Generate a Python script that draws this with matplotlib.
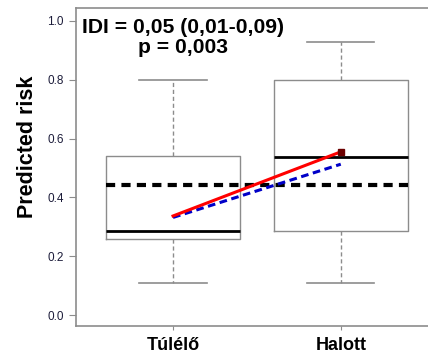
import matplotlib.pyplot as plt

plt.rcParams['font.family'] = ['Liberation Sans', 'DejaVu Sans']

# --- DATA ---
groups = ["Túlélő", "Halott"]
q1 = [0.26, 0.286]
median = [0.286, 0.538]
q3 = [0.541, 0.798]
whisk_lo = [0.11, 0.11]
whisk_hi = [0.798, 0.928]
overall_mean = 0.442
new_model = [0.337, 0.555]   # red line
old_model = [0.332, 0.513]   # blue dashed line
idi_line = "IDI = 0,05 (0,01-0,09)"
p_line = "p = 0,003"

# --- BOXPLOT FROM STATS ---
stats = []
for i, g in enumerate(groups):
    stats.append({'label': g, 'q1': q1[i], 'med': median[i], 'q3': q3[i],
                  'whislo': whisk_lo[i], 'whishi': whisk_hi[i], 'fliers': []})

fig = plt.figure(figsize=(4.28, 3.55), dpi=100)
ax = fig.add_axes([0.1776, 0.0817, 0.8224, 0.8958])

grey = '#8c8c8c'
pos = [1, 2]
ax.bxp(stats, positions=pos, widths=0.8, showfliers=False,
       boxprops=dict(color=grey, lw=1.0),
       whiskerprops=dict(color=grey, lw=1.0, ls=(0, (3, 2))),
       capprops=dict(color=grey, lw=1.2),
       medianprops=dict(color='black', lw=2.0),
       capwidths=0.4)

ax.plot([pos[0] - 0.4, pos[1] + 0.4], [overall_mean, overall_mean],
        color='black', lw=3, ls=(0, (2.2, 1.5)))
ax.plot(pos, new_model, color='#ff0000', lw=2.2, zorder=5)
ax.plot(pos[1], new_model[1], marker='s', ms=4, color='#6b0000', zorder=6)
ax.plot(pos, old_model, color='#0000c8', lw=2.2, ls=(0, (2.5, 1.5)), zorder=4)

ax.text(1.057, 0.976, idi_line, ha='center', va='center', fontsize=15.2,
        fontweight='bold')
ax.text(1.057, 0.91, p_line, ha='center', va='center', fontsize=15.2,
        fontweight='bold')

# --- AXES ---
ax.set_xlim(0.4216, 2.52)
ax.set_ylim(-0.037, 1.044)
ax.set_yticks([0.0, 0.2, 0.4, 0.6, 0.8, 1.0])
ax.set_yticklabels(['0.0', '0.2', '0.4', '0.6', '0.8', '1.0'])
ax.set_xticks(pos)
ax.set_xticklabels(groups, fontweight='bold', fontsize=13)
ax.tick_params(axis='y', colors=grey, labelcolor='#1c1c3a', labelsize=8.5,
               length=5, pad=4)
ax.tick_params(axis='x', colors=grey, labelcolor='black', length=3, pad=5)
ax.set_ylabel("Predicted risk", fontsize=15.5, fontweight='bold')
ax.yaxis.set_label_coords(-0.108, 0.564)
ax.spines['right'].set_visible(False)
for s in ['left', 'top', 'bottom']:
    ax.spines[s].set_color(grey)
    ax.spines[s].set_linewidth(1.2)

fig.savefig("out.png", dpi=100)
